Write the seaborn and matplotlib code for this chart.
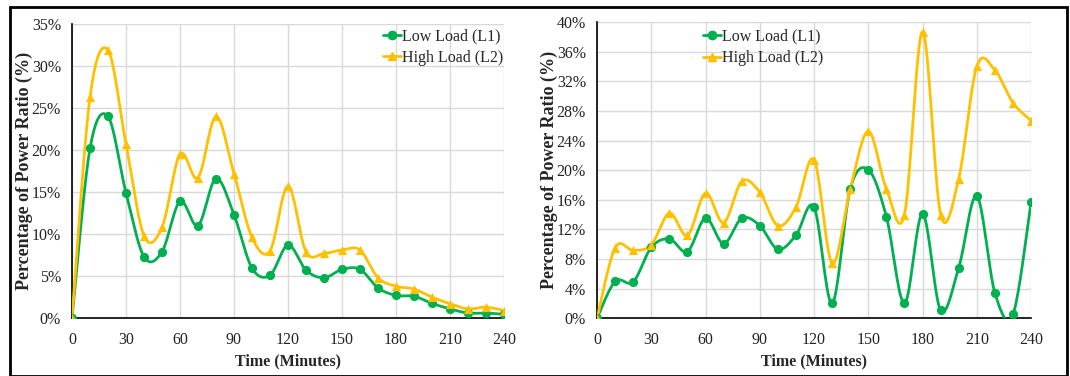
import numpy as np
import pandas as pd
import seaborn as sns
import matplotlib.pyplot as plt
from matplotlib.lines import Line2D
from matplotlib.patches import Rectangle
from matplotlib.ticker import PercentFormatter

# data (percent)
time_min = list(range(0, 250, 10))

left_low = [0, 20.2, 24.0, 14.9, 7.3, 7.9, 13.9, 11.0, 16.6, 12.3, 5.95, 5.1, 8.7,
            5.7, 4.8, 5.8, 5.8, 3.6, 2.7, 2.6, 1.75, 1.1, 0.6, 0.6, 0.45]
left_high = [0, 26.3, 31.9, 20.7, 9.8, 10.8, 19.5, 16.7, 24.0, 17.2, 9.6, 8.0, 15.7,
             7.9, 7.7, 8.1, 8.1, 4.8, 3.8, 3.45, 2.5, 1.7, 1.1, 1.3, 0.9]

right_low = [0, 4.96, 4.9, 9.56, 10.7, 9.0, 13.5, 10.06, 13.5, 12.5, 9.3, 11.2, 15.0,
             2.0, 17.45, 20.07, 13.7, 2.0, 14.1, 1.04, 6.8, 16.5, 3.4, 0.5, 15.65]
right_high = [0, 9.5, 9.15, 9.9, 14.2, 11.2, 16.9, 12.9, 18.5, 17.0, 12.5, 15.0, 21.4,
              7.4, 17.45, 25.25, 17.45, 14.0, 38.7, 14.0, 18.85, 34.05, 33.5, 29.1, 26.7]

GREEN = "#00B050"
GOLD = "#FFC000"
FONT = "Liberation Serif"


def smooth(x, y, n=20):
    # excel-style smoothed line (catmull-rom bezier)
    x = np.asarray(x, float)
    y = np.asarray(y, float)
    px = np.concatenate([[x[0]], x, [x[-1]]])
    py = np.concatenate([[y[0]], y, [y[-1]]])
    t = np.linspace(0, 1, n, endpoint=False)
    xs, ys = [], []
    for i in range(1, len(px) - 2):
        p0x, p1x = px[i], px[i + 1]
        p0y, p1y = py[i], py[i + 1]
        c1x = p0x + (px[i + 1] - px[i - 1]) / 6
        c1y = p0y + (py[i + 1] - py[i - 1]) / 6
        c2x = p1x - (px[i + 2] - px[i]) / 6
        c2y = p1y - (py[i + 2] - py[i]) / 6
        b0, b1, b2, b3 = (1 - t) ** 3, 3 * t * (1 - t) ** 2, 3 * t ** 2 * (1 - t), t ** 3
        xs.append(b0 * p0x + b1 * c1x + b2 * c2x + b3 * p1x)
        ys.append(b0 * p0y + b1 * c1y + b2 * c2y + b3 * p1y)
    xs.append([x[-1]])
    ys.append([y[-1]])
    return np.concatenate(xs), np.concatenate(ys)


sns.set_theme(style="white")
plt.rcParams['font.family'] = [FONT, 'DejaVu Serif']

fig = plt.figure(figsize=(10.7, 3.76), dpi=100)
ax1 = fig.add_axes([0.0673, 0.154, 0.4037, 0.782])
ax2 = fig.add_axes([0.558, 0.154, 0.4056, 0.787])

panels = [
    (ax1, left_low, left_high, 35, 5, (0.72, 0.985)),
    (ax2, right_low, right_high, 40, 4, (0.244, 0.978)),
]

for ax, low, high, ymax, ystep, leg_pos in panels:
    for vals, col, mk, ms in [(low, GREEN, "o", 7), (high, GOLD, "^", 7)]:
        sx, sy = smooth(time_min, vals)
        df_s = pd.DataFrame({"t": sx, "v": sy})
        sns.lineplot(data=df_s, x="t", y="v", ax=ax, color=col, lw=2, sort=False, zorder=3)
        df_p = pd.DataFrame({"t": time_min, "v": vals})
        sns.scatterplot(data=df_p, x="t", y="v", ax=ax, color=col, marker=mk, s=ms ** 2 * 0.9,
                        edgecolor=col, linewidth=0, zorder=4)

    ax.set_xlim(0, 240)
    ax.set_ylim(0, ymax)
    ax.set_xticks(range(0, 241, 30))
    ax.set_yticks(range(0, ymax + 1, ystep))
    ax.yaxis.set_major_formatter(PercentFormatter(decimals=0))
    ax.grid(True, color="#D9D9D9", lw=1)
    ax.set_axisbelow(True)
    for s in ["top", "right"]:
        ax.spines[s].set_visible(False)
    for s in ["left", "bottom"]:
        ax.spines[s].set_color("black")
        ax.spines[s].set_linewidth(1.2)
    ax.tick_params(axis="both", which="major", direction="out", length=4, width=1,
                   color="black", labelsize=11.5, labelcolor="#222222")
    ax.tick_params(axis="x", pad=6)
    ax.tick_params(axis="y", pad=4)
    for lab in ax.get_xticklabels() + ax.get_yticklabels():
        lab.set_family(FONT)
    ax.set_xlabel("Time (Minutes)", fontsize=11.5, fontweight="bold", family=FONT, labelpad=4)
    ax.set_ylabel("Percentage of Power Ratio (%)", fontsize=13, fontweight="bold",
                  family=FONT, labelpad=-1)

    handles = [
        Line2D([], [], color=GREEN, lw=2, marker="o", ms=6),
        Line2D([], [], color=GOLD, lw=2, marker="^", ms=6),
    ]
    ax.legend(handles, ["Low Load (L1)", "High Load (L2)"], loc="upper left",
              bbox_to_anchor=leg_pos, frameon=False, handlelength=1.1, handletextpad=0.1,
              labelspacing=0.35, borderaxespad=0, borderpad=0,
              prop={"family": FONT, "size": 11.5})

fig.patches.append(Rectangle((10 / 1070, 0), 1057 / 1070, 1 - 7 / 376,
                             transform=fig.transFigure, fill=False, edgecolor="black",
                             lw=2, zorder=10))

fig.savefig("out.png", dpi=100)
